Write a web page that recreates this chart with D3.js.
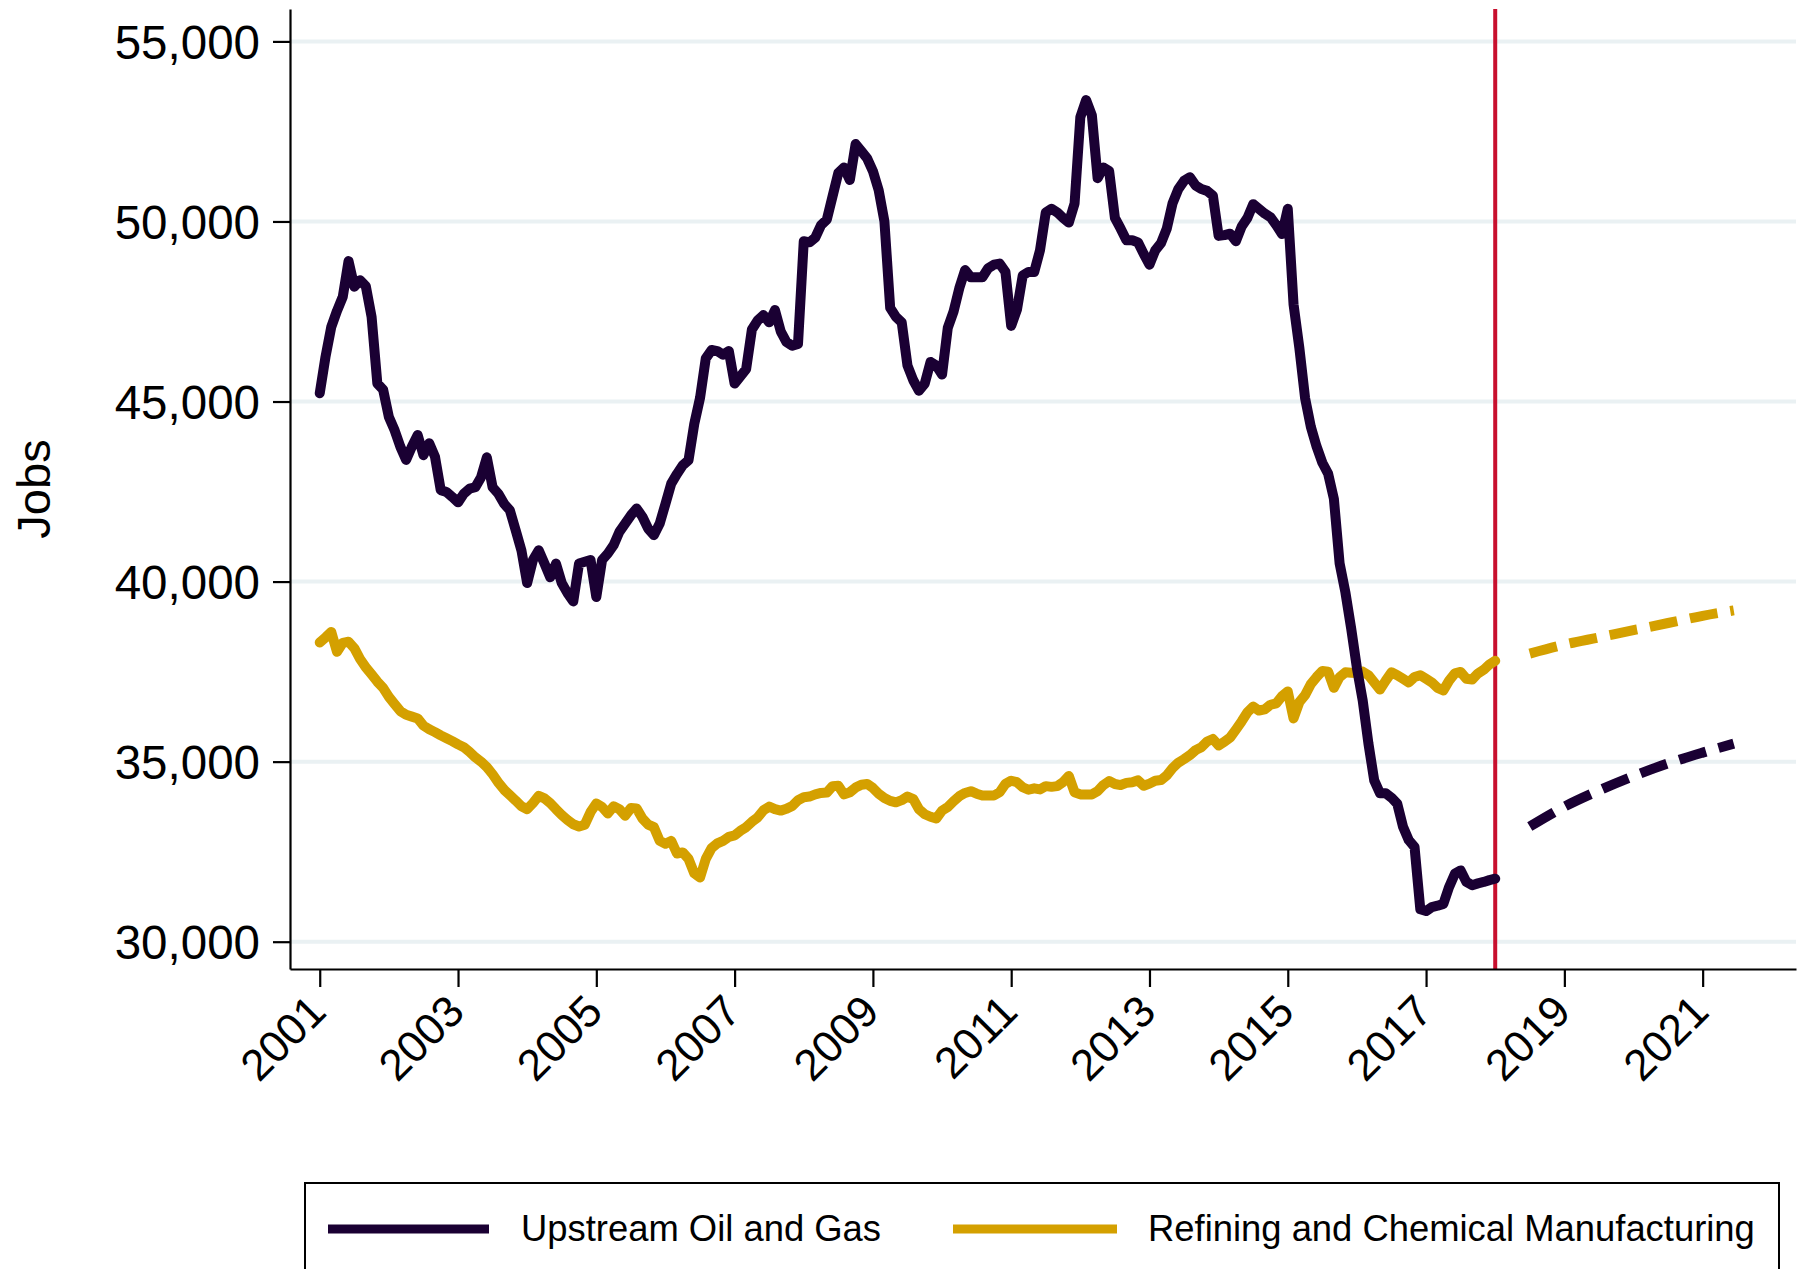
<!DOCTYPE html>
<html>
<head>
<meta charset="utf-8">
<script src="https://cdnjs.cloudflare.com/ajax/libs/d3/7.8.5/d3.min.js"></script>
<style>
  body { margin: 0; background: #fff; }
  text { font-family: "Liberation Sans", Arial, sans-serif; fill: #000; }
</style>
</head>
<body>
<div id="chart"></div>
<script>
(function() {

    // monthly jobs, Jan 2001 .. Jan 2018
    var startYear = 2001;
    var upstream = [
        45230, 46240, 47070, 47520, 47910, 48900, 48190, 48370, 48200, 47350, 45500, 45330,
        44570, 44200, 43740, 43380, 43750, 44070, 43510, 43840, 43470, 42540, 42490, 42350,
        42200, 42440, 42580, 42620, 42900, 43450, 42620, 42440, 42160, 41980, 41430, 40870,
        39960, 40600, 40870, 40500, 40120, 40500, 39960, 39680, 39450, 40500, 40550, 40600,
        39570, 40600, 40780, 41010, 41380, 41610, 41840, 42030, 41800, 41470, 41290, 41610,
        42160, 42720, 42990, 43230, 43370, 44380, 45100, 46200, 46430, 46400, 46300, 46400,
        45500, 45700, 45900, 47000, 47250, 47400, 47200, 47540, 46950, 46650, 46550, 46600,
        49450, 49420, 49550, 49900, 50050, 50700, 51350, 51500, 51150, 52150, 51950, 51750,
        51400, 50870, 50000, 47600, 47350, 47200, 46000, 45590, 45300, 45500, 46100, 46000,
        45750, 47050, 47500, 48150, 48650, 48450, 48450, 48450, 48700, 48800, 48830, 48600,
        47100, 47550, 48500, 48600, 48600, 49200, 50250, 50350, 50250, 50100, 49970, 50500,
        52900, 53370, 52950, 51200, 51500, 51400, 50100, 49800, 49480, 49480, 49420, 49100,
        48800, 49200, 49400, 49800, 50500, 50900, 51130, 51230, 51000, 50900, 50850, 50720,
        49600, 49620, 49660, 49450, 49860, 50100, 50480, 50350, 50220, 50120, 49900, 49650,
        50350, 47700, 46500, 45100, 44300, 43750, 43300, 43000, 42300, 40500, 39700, 38700,
        37600, 36700, 35500, 34480, 34120, 34120, 34000, 33830, 33190, 32820, 32630, 30900,
        30850, 30960, 31000, 31050, 31520, 31890, 31980, 31660, 31570, 31620, 31660, 31710,
        31750
    ];
    var refining = [
        38310, 38450, 38600, 38050, 38300, 38330, 38150, 37850, 37620, 37420, 37220, 37050,
        36800, 36600, 36400, 36300, 36250, 36200, 36000, 35900, 35820, 35730, 35650, 35570,
        35480, 35400, 35270, 35120, 35000, 34850, 34650, 34420, 34220, 34070, 33920, 33760,
        33680, 33850, 34050, 33980, 33850, 33680, 33520, 33380, 33260, 33200, 33250, 33600,
        33840, 33740, 33560, 33760, 33680, 33500, 33710, 33700, 33420, 33250, 33180, 32800,
        32720, 32800, 32450, 32480, 32300, 31900, 31780, 32300, 32600, 32730, 32800, 32910,
        32950, 33080, 33180, 33330, 33450, 33650, 33750, 33680, 33640, 33690, 33770, 33930,
        34010, 34030, 34090, 34130, 34140, 34320, 34330, 34090, 34150, 34280, 34360, 34380,
        34270, 34110, 33990, 33910, 33870, 33930, 34030, 33960, 33680, 33540, 33470, 33420,
        33640, 33740, 33900, 34040, 34130, 34180, 34110, 34060, 34060, 34060, 34150, 34380,
        34470, 34430, 34290, 34220, 34260, 34230, 34320, 34300, 34320, 34430, 34600, 34150,
        34090, 34090, 34090, 34180, 34350, 34460, 34380, 34350, 34410, 34430, 34480, 34330,
        34390, 34470, 34490, 34620, 34820, 34970, 35070, 35180, 35320, 35400, 35560, 35630,
        35450, 35550, 35670, 35890, 36120, 36370, 36530, 36420, 36450, 36580, 36620, 36820,
        36950, 36200, 36650, 36850, 37150, 37350, 37520, 37500, 37050, 37350, 37480, 37470,
        37460, 37500, 37400, 37200, 37000, 37250, 37480, 37400, 37300, 37200, 37350, 37400,
        37300, 37200, 37050, 36980, 37250, 37450, 37490, 37300, 37280, 37450, 37550, 37700,
        37800
    ];

    // projections after the cutoff
    var projYears    = [2018.5, 2019, 2019.5, 2020, 2020.5, 2021, 2021.45];
    var upstreamProj = [33200, 33750, 34200, 34600, 34950, 35250, 35500];
    var refiningProj = [38000, 38250, 38450, 38650, 38850, 39050, 39200];

    var cutoffYear = 2018;
    var yTicks = [30000, 35000, 40000, 45000, 50000, 55000];
    var xTicks = [2001, 2003, 2005, 2007, 2009, 2011, 2013, 2015, 2017, 2019, 2021];
    var seriesNames = ["Upstream Oil and Gas", "Refining and Chemical Manufacturing"];

    var purple = "#1a0033",
        gold = "#d4a000";

    var margin = {top: 9, left: 290, right: 9, bottom: 300},
        width = 1805 - margin.left - margin.right,
        height = 1269 - margin.top - margin.bottom;

    var root = d3.select("#chart")
        .append("svg")
        .attr("width", 1805)
        .attr("height", 1269)
        .style("display", "block");

    root.append("rect")
        .attr("width", 1805)
        .attr("height", 1269)
        .attr("fill", "#fff");

    var svg = root.append("g")
        .attr("transform", "translate(" + margin.left + "," + margin.top + ")");

    var x = d3.scaleLinear()
        .domain([2000.57, 2022.35])
        .range([0, width]);

    var y = d3.scaleLinear()
        .domain([29242, 55900])
        .range([height, 0]);

    // gridlines
    svg.append("g")
        .selectAll("line")
        .data(yTicks)
        .enter().append("line")
        .attr("x1", 0)
        .attr("x2", width)
        .attr("y1", function(d) { return y(d); })
        .attr("y2", function(d) { return y(d); })
        .attr("stroke", "#eaf1f3")
        .attr("stroke-width", 4);

    var monthly = function(values) {
        return values.map(function(v, i) { return [startYear + i / 12, v]; });
    };
    var paired = function(years, values) {
        return years.map(function(t, i) { return [t, values[i]]; });
    };

    var line = d3.line()
        .x(function(d) { return x(d[0]); })
        .y(function(d) { return y(d[1]); });

    var smooth = d3.line()
        .curve(d3.curveMonotoneX)
        .x(function(d) { return x(d[0]); })
        .y(function(d) { return y(d[1]); });

    // cutoff marker
    svg.append("line")
        .attr("x1", x(cutoffYear))
        .attr("x2", x(cutoffYear))
        .attr("y1", 0)
        .attr("y2", height)
        .attr("stroke", "#c8102e")
        .attr("stroke-width", 4);

    svg.append("path")
        .datum(monthly(refining))
        .attr("d", line)
        .attr("fill", "none")
        .attr("stroke", gold)
        .attr("stroke-width", 10)
        .attr("stroke-linejoin", "round")
        .attr("stroke-linecap", "round");

    svg.append("path")
        .datum(monthly(upstream))
        .attr("d", line)
        .attr("fill", "none")
        .attr("stroke", purple)
        .attr("stroke-width", 10)
        .attr("stroke-linejoin", "round")
        .attr("stroke-linecap", "round");

    svg.append("path")
        .datum(paired(projYears, refiningProj))
        .attr("d", smooth)
        .attr("fill", "none")
        .attr("stroke", gold)
        .attr("stroke-width", 10)
        .attr("stroke-dasharray", "28,13");

    svg.append("path")
        .datum(paired(projYears, upstreamProj))
        .attr("d", smooth)
        .attr("fill", "none")
        .attr("stroke", purple)
        .attr("stroke-width", 10)
        .attr("stroke-dasharray", "28,13");

    // axes
    var yAxis = svg.append("g")
        .call(d3.axisLeft(y)
            .tickValues(yTicks)
            .tickSize(17)
            .tickSizeOuter(0)
            .tickPadding(13)
            .tickFormat(d3.format(",")));

    yAxis.selectAll("text")
        .attr("font-size", 47.5)
        .attr("dy", "0.36em");

    var xAxis = svg.append("g")
        .attr("transform", "translate(0," + height + ")")
        .call(d3.axisBottom(x)
            .tickValues(xTicks)
            .tickSize(18)
            .tickSizeOuter(0)
            .tickFormat(d3.format("d")));

    xAxis.selectAll("text")
        .attr("font-size", 44)
        .attr("text-anchor", "end")
        .attr("x", 0)
        .attr("y", 0)
        .attr("dy", 0)
        .attr("transform", "translate(8,45) rotate(-45)");

    root.selectAll(".domain, .tick line")
        .attr("stroke", "#000")
        .attr("stroke-width", 2.2);
    root.selectAll(".tick text").attr("fill", "#000");

    root.append("text")
        .attr("transform", "translate(50,489) rotate(-90)")
        .attr("text-anchor", "middle")
        .attr("font-size", 47)
        .text("Jobs");

    // legend
    var legend = root.append("g");

    legend.append("rect")
        .attr("x", 305)
        .attr("y", 1183)
        .attr("width", 1474)
        .attr("height", 140)
        .attr("fill", "#fff")
        .attr("stroke", "#000")
        .attr("stroke-width", 2);

    var items = [
        {name: seriesNames[0], color: purple, x0: 328, x1: 489, tx: 521},
        {name: seriesNames[1], color: gold, x0: 953, x1: 1117, tx: 1148}
    ];

    var item = legend.selectAll(".item")
        .data(items)
        .enter().append("g")
        .attr("class", "item");

    item.append("line")
        .attr("x1", function(d) { return d.x0; })
        .attr("x2", function(d) { return d.x1; })
        .attr("y1", 1229)
        .attr("y2", 1229)
        .attr("stroke", function(d) { return d.color; })
        .attr("stroke-width", 9);

    item.append("text")
        .attr("x", function(d) { return d.tx; })
        .attr("y", 1241)
        .attr("font-size", 36.4)
        .text(function(d) { return d.name; });

})();
</script>
</body>
</html>
